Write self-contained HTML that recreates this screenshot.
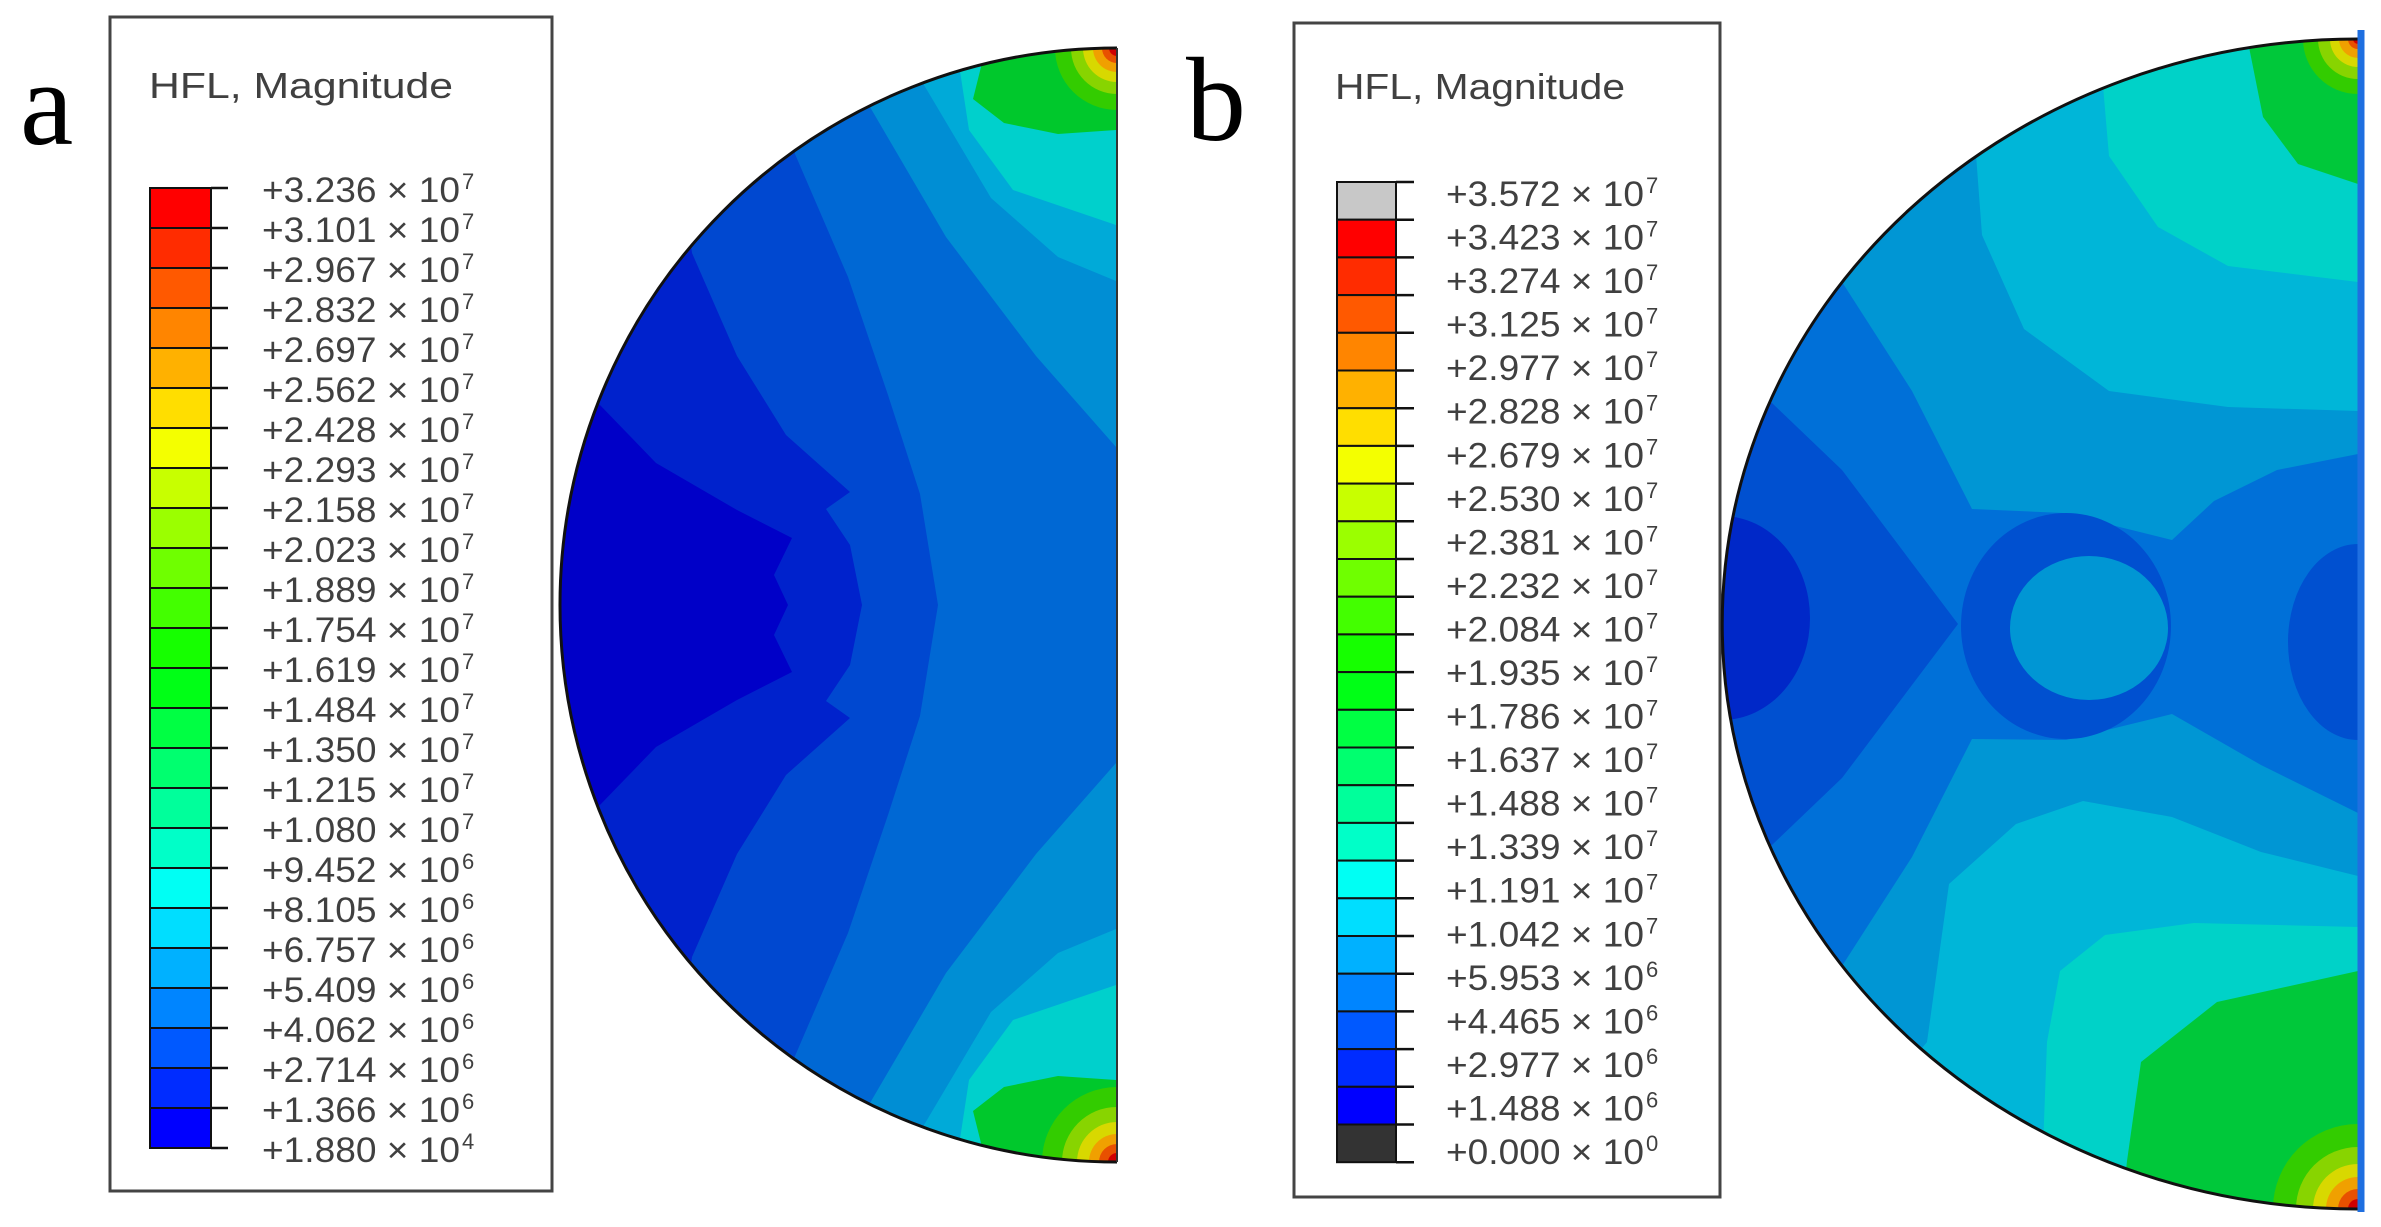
<!DOCTYPE html>
<html><head><meta charset="utf-8"><style>
html,body{margin:0;padding:0;background:#fff;overflow:hidden;width:2381px;height:1227px;}
svg{display:block;}
text{font-family:"Liberation Sans",sans-serif;}
</style></head><body>
<svg id="fig" width="2381" height="1227" viewBox="0 0 2381 1227" xmlns="http://www.w3.org/2000/svg">
  <defs>
    <clipPath id="clipA"><path d="M1117,48 A557,557 0 0 0 1117,1162 Z"/></clipPath>
    <clipPath id="clipB"><path d="M2358,39 A636,585 0 0 0 2358,1209 Z"/></clipPath>
  </defs>
  <text x="20" y="144" font-size="120" style="font-family:'Liberation Serif',serif" fill="#000">a</text>
  <text x="1186" y="140" font-size="120" style="font-family:'Liberation Serif',serif" fill="#000">b</text>

  <g id="legendA">
    <rect x="110" y="17" width="442" height="1174" fill="#fff" stroke="#444" stroke-width="3"/>
    <text x="149" y="98" font-size="36" fill="#404040" textLength="304" lengthAdjust="spacingAndGlyphs">HFL, Magnitude</text>
  </g>
  <g id="legendB">
    <rect x="1294" y="23" width="426" height="1174" fill="#fff" stroke="#444" stroke-width="3"/>
    <text x="1335" y="99" font-size="36" fill="#404040" textLength="290" lengthAdjust="spacingAndGlyphs">HFL, Magnitude</text>
  </g>
  <g id="discA" clip-path="url(#clipA)"></g>
  <path d="M1117,48 A557,557 0 0 0 1117,1162" fill="none" stroke="#111" stroke-width="3"/>
  <line x1="1117" y1="48" x2="1117" y2="1162" stroke="#333" stroke-width="2"/>
  <g id="discB" clip-path="url(#clipB)"></g>
  <path d="M2358,39 A636,585 0 0 0 2358,1209" fill="none" stroke="#111" stroke-width="3"/>
  <line x1="2361" y1="30" x2="2361" y2="1212" stroke="#1f6fe0" stroke-width="7"/>
</svg>
<script>
// ---- legend data ----
const labelsA = ["+3.236","+3.101","+2.967","+2.832","+2.697","+2.562","+2.428","+2.293","+2.158","+2.023","+1.889","+1.754","+1.619","+1.484","+1.350","+1.215","+1.080","+9.452","+8.105","+6.757","+5.409","+4.062","+2.714","+1.366","+1.880"];
const expA = ["7","7","7","7","7","7","7","7","7","7","7","7","7","7","7","7","7","6","6","6","6","6","6","6","4"];
const labelsB = ["+3.572","+3.423","+3.274","+3.125","+2.977","+2.828","+2.679","+2.530","+2.381","+2.232","+2.084","+1.935","+1.786","+1.637","+1.488","+1.339","+1.191","+1.042","+5.953","+4.465","+2.977","+1.488","+0.000"];
const expB = ["7","7","7","7","7","7","7","7","7","7","7","7","7","7","7","7","7","7","6","6","6","6","0"];

const NS = "http://www.w3.org/2000/svg";
function mk(tag, attrs, parent){
  const e = document.createElementNS(NS, tag);
  for (const k in attrs) e.setAttribute(k, attrs[k]);
  parent.appendChild(e);
  return e;
}
function hue(i, n){ return "hsl(" + (240*i/(n-1)).toFixed(1) + ",100%,50%)"; }

function drawLegend(g, key, barX, barW, tickEnd, barTop, bandH, colors, labX, labY0, labStep, labels, exps){
  colors.forEach((c, i) => {
    const r = mk("rect", {x: barX, y: barTop + i*bandH, width: barW, height: bandH, fill: c, stroke: "#111", "stroke-width": 2}, g);
    
    
  });
  for (let i = 0; i <= colors.length; i++) {
    const t = mk("line", {x1: barX + barW, x2: tickEnd, y1: barTop + i*bandH, y2: barTop + i*bandH, stroke: "#111", "stroke-width": 2.5}, g);
    
    
  }
  labels.forEach((s, i) => {
    const y = labY0 + i*labStep;
    const t = mk("text", {x: labX, y: y, "font-size": 35, fill: "#404040", textLength: 198, lengthAdjust: "spacingAndGlyphs"}, g);
    t.textContent = s + " \u00d7 10";
    
    
    const sp = mk("text", {x: labX + 200, y: y - 13, "font-size": 22, fill: "#404040"}, g);
    sp.textContent = exps[i];
    
    
  });
}
const colA = []; for (let i = 0; i < 24; i++) colA.push(hue(i, 24));
const colB = ["#c8c8c8"]; for (let i = 0; i < 24; i++) colB.push(hue(i, 24)); colB.push("#333333");
drawLegend(document.getElementById("legendA"), "legend-a", 150, 61, 228, 188, 40, colA, 262, 202, 40, labelsA, expA);
drawLegend(document.getElementById("legendB"), "legend-b", 1337, 59, 1414, 182, 37.7, colB, 1446, 206, (1164-206)/(labelsB.length-1), labelsB, expB);

// ---- contour fields (illustrative region outlines) ----
function poly(g, pts, fill, name){
  const p = mk("polygon", {points: pts.map(p => p[0]+","+p[1]).join(" "), fill: fill}, g);
  
  
  return p;
}
function sym(upper, my){ return upper.concat(upper.slice().reverse().map(p => [p[0], 2*my - p[1]])); }

const gA = document.getElementById("discA");
const bg = mk("rect", {x: 500, y: 0, width: 700, height: 1227, fill: "#0068d4"}, gA);


const bandsA = [
  [[[850,0],[870,107],[946,237],[1036,356],[1116,447],[1200,447],[1200,0]], "#008ed4"],
  [[[900,0],[924,85],[991,198],[1058,257],[1116,281],[1200,281],[1200,0]], "#00aad8"],
  [[[950,0],[960,71],[969,130],[1013,190],[1116,225],[1200,225],[1200,0]], "#00d0cc"],
  [[[975,0],[982,63],[973,99],[1004,123],[1058,134],[1116,130],[1200,130],[1200,0]], "#00c82c"]
];
bandsA.forEach(([pts, c]) => {
  poly(gA, pts, c, 'disc-a-upper-band');
  poly(gA, pts.map(p => [p[0], 1210 - p[1]]), c, 'disc-a-lower-band');
});
poly(gA, sym([[500,0],[760,0],[795,154],[848,277],[888,395],[920,494],[938,605]], 605), "#0048d0", 'disc-a-band-c2');
poly(gA, sym([[500,0],[660,0],[692,253],[737,356],[786,435],[850,492],[826,509],[850,545],[862,605]], 605), "#0022cc", 'disc-a-band-c1');
poly(gA, sym([[500,0],[520,300],[598,403],[656,463],[737,510],[792,538],[774,575],[788,605]], 605), "#0000c8", 'disc-a-band-c0');
// quarter-disc hotspots (dir = +1 grows downward from a top corner, -1 upward from a bottom corner)
function hot(g, cx, cy, dir, radii, cols, name){
  radii.forEach((r, i) => {
    const sweep = dir > 0 ? 0 : 1;
    const d = "M" + cx + "," + cy + " L" + (cx - r) + "," + cy + " A" + r + "," + r + " 0 0 " + sweep + " " + cx + "," + (cy + dir*r) + " Z";
    const c = mk("path", {d: d, fill: cols[i]}, g);
    
    
  });
}
const hotCols = ["#33cc00","#88d400","#d8d800","#f0a000","#e85000","#d00000"];
hot(gA, 1117, 48, 1, [62,46,34,24,15,8], hotCols, 'disc-a-hotspot-top');
hot(gA, 1117, 1162, -1, [75,55,40,28,18,9], hotCols, 'disc-a-hotspot-bottom');

const gB = document.getElementById("discB");
const bgB = mk("rect", {x: 1700, y: 0, width: 681, height: 1227, fill: "#0096d4"}, gB);


poly(gB, [[1960,0],[1975,141],[1982,235],[2024,329],[2109,391],[2228,407],[2358,411],[2381,411],[2381,0]], "#00b6d8", 'disc-b-upper-c6');
poly(gB, [[2095,0],[2102,74],[2109,156],[2158,227],[2228,266],[2358,282],[2381,282],[2381,0]], "#00d2c8", 'disc-b-upper-cyan');
poly(gB, [[2245,0],[2249,47],[2263,117],[2298,164],[2358,184],[2381,184],[2381,0]], "#00c83a", 'disc-b-upper-green');
poly(gB, [[1880,1100],[1927,1042],[1949,884],[2016,824],[2083,801],[2172,817],[2261,852],[2358,876],[2381,876],[2381,1227],[1880,1227]], "#00b6d8", 'disc-b-lower-c6');
poly(gB, [[2040,1227],[2047,1042],[2060,971],[2105,935],[2194,923],[2358,927],[2381,927],[2381,1227]], "#00d2c8", 'disc-b-lower-cyan');
poly(gB, [[2120,1227],[2127,1161],[2141,1062],[2217,1002],[2358,971],[2381,971],[2381,1227]], "#00c83a", 'disc-b-lower-green');
poly(gB, [[1700,240],[1842,282],[1912,391],[1972,509],[2063,513],[2172,540],[2214,501],[2277,470],[2358,454],[2381,454],[2381,813],[2358,813],[2261,765],[2172,714],[2066,740],[1972,739],[1912,857],[1842,966],[1700,1010]], "#0070d8", 'disc-b-band-c3');
poly(gB, [[1700,380],[1772,403],[1842,470],[1912,563],[1958,624],[1912,685],[1842,778],[1772,845],[1700,870]], "#0050d0", 'disc-b-band-c2');
function ell(g, cx, cy, rx, ry, fill, name){
  const e = mk("ellipse", {cx: cx, cy: cy, rx: rx, ry: ry, fill: fill}, g);
  
  
}
ell(gB, 1722, 618, 88, 102, "#0028c8", 'disc-b-left-minimum');
ell(gB, 2358, 642, 70, 98, "#0050d0", 'disc-b-right-minimum');
ell(gB, 2066, 626, 105, 113, "#0050d0", 'disc-b-ring');
ell(gB, 2089, 628, 79, 72, "#0096d4", 'disc-b-ring-core');
hot(gB, 2358, 39, 1, [55,40,28,19,10,5], hotCols, 'disc-b-hotspot-top');
hot(gB, 2358, 1209, -1, [85,62,45,32,20,10], hotCols, 'disc-b-hotspot-bottom');
</script>
</body></html>
